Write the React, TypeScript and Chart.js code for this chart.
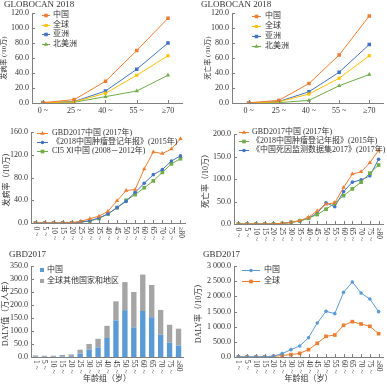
import React, { useEffect, useRef } from 'react';
import { Chart, registerables } from 'chart.js';

Chart.register(...registerables);

const FONT = "'Liberation Serif', 'Noto Sans CJK SC', serif";
const TEXT = '#333333';
const AXIS = '#808080';
const ORANGE = '#ED7D31';
const YELLOW = '#FFC000';
const BLUE = '#4472C4';
const LBLUE = '#5B9BD5';
const GREEN = '#70AD47';
const GRAY = '#A5A5A5';

// ---------- Panel 1 & 2 (GLOBOCAN 2018) ----------
const ages5 = ['0 ~', '25 ~', '40 ~', '55 ~', '≥70'];
const incChina = [0.5, 4.5, 29, 70, 113];
const incGlobal = [0.3, 1.5, 13, 37, 63];
const incAsia = [0.4, 2, 16, 45, 80];
const incNA = [0.2, 1, 8.5, 16, 37];
const mortChina = [0.3, 3.5, 26, 64, 116];
const mortGlobal = [0.2, 1.5, 12, 33, 63];
const mortAsia = [0.2, 2, 15, 41, 78];
const mortNA = [0.1, 0.5, 3.5, 23, 38];

// ---------- Panel 3 & 4 (China sources) ----------
const ages17a = ['0 ~', '5 ~', '10 ~', '15 ~', '20 ~', '25 ~', '30 ~', '35 ~', '40 ~', '45 ~', '50 ~', '55 ~', '60 ~', '65 ~', '70 ~', '75 ~', '≥80'];
const incGBD = [0, 0, 0, 0, 0.5, 3, 7.6, 12, 20.5, 39, 57, 59, 95, 125, 122, 130, 148];
const incRegistry = [0, 0, 0, 0, 0.4, 2, 4, 9, 16, 27, 38, 54, 70, 85, 94, 109, 118];
const incCI5 = [0, 0, 0, 0, 0.3, 1.5, 3.5, 8, 16, 27, 40, 50, 62, 74, 89, 104, 113];
const mortGBD = [0, 0, 0, 0, 0.3, 1.5, 3.7, 7.4, 15, 29, 44, 47, 81, 111, 116, 136, 164];
const mortRegistry = [0, 0, 0, 0, 0.2, 1, 3.7, 6.7, 13, 21, 33, 46, 63, 78, 93, 113, 131];
const mortDSP = [0, 0, 0, 0, 0.2, 1, 3.7, 6.7, 13, 24, 47, 38.5, 72, 93, 98, 107, 144];

// ---------- Panel 5 & 6 (GBD2017 DALY) ----------
const ages17b = ['1 ~', '5 ~', '10 ~', '15 ~', '20 ~', '25 ~', '30 ~', '35 ~', '40 ~', '45 ~', '50 ~', '55 ~', '60 ~', '65 ~', '70 ~', '75 ~', '≥80'];
const dalyChina = [1, 1, 1, 2, 3, 13, 29, 37, 73, 141, 180, 114, 177, 153, 86, 55, 44];
const dalyOther = [5, 4, 4, 6, 7, 15, 21, 33, 47, 73, 108, 136, 140, 124, 95, 69, 65];
const dalyRateChina = [5, 5, 5, 10, 30, 110, 242, 363, 637, 1121, 1505, 1429, 2132, 2473, 2110, 1912, 1495];
const dalyRateGlobal = [5, 3, 3, 5, 15, 55, 77, 121, 242, 450, 681, 725, 1044, 1165, 1088, 1011, 769];

type LegendSpec = { x: number; y: number; dy: number; lineLen?: number; box?: number; textX: number; size: number };
type Decor = { legend?: LegendSpec; rotLabels?: string[]; rotPad?: number; rotSize?: number; xTicks?: boolean };

function drawMarker(ctx: CanvasRenderingContext2D, style: string, x: number, y: number, r: number, color: string) {
  ctx.fillStyle = color;
  ctx.beginPath();
  if (style === 'rect') {
    const s = r * Math.SQRT1_2;
    ctx.rect(x - s, y - s, 2 * s, 2 * s);
  } else if (style === 'triangle') {
    ctx.moveTo(x, y - r);
    ctx.lineTo(x + r * 0.866, y + r * 0.5);
    ctx.lineTo(x - r * 0.866, y + r * 0.5);
    ctx.closePath();
  } else {
    ctx.arc(x, y, r, 0, Math.PI * 2);
  }
  ctx.fill();
}

function makeDecor(spec: Decor) {
  return {
    id: 'decor',
    afterDraw(chart: any) {
      const ctx = chart.ctx as CanvasRenderingContext2D;
      const xs = chart.scales.x;
      const ys = chart.scales.y;
      ctx.save();
      ctx.strokeStyle = AXIS;
      ctx.lineWidth = 1;
      ys.ticks.forEach((t: any) => {
        const py = Math.round(ys.getPixelForValue(t.value)) + 0.5;
        ctx.beginPath();
        ctx.moveTo(ys.right, py);
        ctx.lineTo(ys.right + 3, py);
        ctx.stroke();
      });
      if (spec.xTicks) {
        xs.ticks.forEach((_t: any, i: number) => {
          const px = Math.round(xs.getPixelForTick(i)) + 0.5;
          ctx.beginPath();
          ctx.moveTo(px, xs.top);
          ctx.lineTo(px, xs.top - 3);
          ctx.stroke();
        });
      }
      if (spec.rotLabels) {
        ctx.fillStyle = TEXT;
        ctx.font = `${spec.rotSize || 8}px ${FONT}`;
        ctx.textAlign = 'left';
        ctx.textBaseline = 'middle';
        spec.rotLabels.forEach((lab, i) => {
          const px = xs.getPixelForTick(i);
          ctx.save();
          ctx.translate(px, xs.top + (spec.rotPad || 3));
          ctx.rotate(Math.PI / 2);
          ctx.fillText(lab, 0, 0);
          ctx.restore();
        });
      }
      const lg = spec.legend;
      if (lg) {
        ctx.font = `${lg.size}px ${FONT}`;
        ctx.textAlign = 'left';
        ctx.textBaseline = 'middle';
        chart.data.datasets.forEach((ds: any, i: number) => {
          const y = lg.y + i * lg.dy;
          if (lg.box) {
            ctx.fillStyle = ds.backgroundColor;
            ctx.fillRect(lg.x, y - lg.box / 2, lg.box, lg.box);
          } else {
            const len = lg.lineLen || 10;
            ctx.strokeStyle = ds.borderColor;
            ctx.lineWidth = 1;
            ctx.beginPath();
            ctx.moveTo(lg.x, Math.round(y) + 0.5);
            ctx.lineTo(lg.x + len, Math.round(y) + 0.5);
            ctx.stroke();
            drawMarker(ctx, ds.pointStyle, lg.x + len / 2, Math.round(y) + 0.5, ds.pointRadius, ds.borderColor);
          }
          ctx.fillStyle = TEXT;
          ctx.fillText(ds.label, lg.textX, y);
        });
      }
      ctx.restore();
    },
  };
}

const fmt1 = (v: number) => v.toFixed(1);
const fmtThousands = (v: number) => {
  const [i, d] = v.toFixed(1).split('.');
  return i.replace(/\B(?=(\d{3})+(?!\d))/g, ' ') + '.' + d;
};

function yAxis(max: number, step: number, title: string, titleSize: number, titlePad: number, width: number, fmt = fmt1, stacked = false) {
  return {
    min: 0,
    max,
    stacked,
    ticks: { stepSize: step, color: TEXT, font: { family: FONT, size: 8 }, padding: 3, callback: (v: any) => fmt(Number(v)) },
    grid: { display: false, drawTicks: false },
    border: { display: true, color: AXIS, width: 1 },
    title: { display: true, text: title, color: TEXT, font: { family: FONT, size: titleSize }, padding: { top: titlePad, bottom: 0 } },
    afterFit: (s: any) => { s.width = width; },
  };
}

function xLinear(labels: string[], min: number, max: number, height: number) {
  return {
    type: 'linear',
    min,
    max,
    afterBuildTicks: (s: any) => { s.ticks = labels.map((_l, i) => ({ value: i })); },
    ticks: { color: TEXT, font: { family: FONT, size: 8 }, padding: 3, maxRotation: 0, autoSkip: false, callback: (v: any) => labels[Math.round(Number(v))] ?? '' },
    grid: { display: false, drawTicks: false },
    border: { display: true, color: AXIS, width: 1 },
    afterFit: (s: any) => { s.height = height; },
  };
}

function xCat(height: number, title?: string, stacked = false) {
  return {
    type: 'category',
    offset: true,
    stacked,
    ticks: { display: false },
    grid: { display: false, drawTicks: false },
    border: { display: true, color: AXIS, width: 1 },
    title: title
      ? { display: true, text: title, color: TEXT, font: { family: FONT, size: 8 }, padding: { top: 0, bottom: 0 } }
      : { display: false },
    afterFit: (s: any) => { s.height = height; },
  };
}

function lineDs(label: string, data: any[], color: string, pointStyle: string, r: number) {
  return {
    label, data, borderColor: color, backgroundColor: color,
    pointBackgroundColor: color, pointBorderColor: color, pointBorderWidth: 0,
    pointStyle, pointRadius: r, borderWidth: 1, tension: 0,
  };
}

const toXY = (arr: number[]) => arr.map((v, i) => ({ x: i, y: v }));

function common(scales: any, padding: any) {
  return {
    responsive: false,
    animation: false,
    devicePixelRatio: 1,
    events: [],
    layout: { padding },
    plugins: { legend: { display: false }, tooltip: { enabled: false }, title: { display: false } },
    scales,
  };
}

const build1 = () => ({
  type: 'line',
  data: {
    datasets: [
      lineDs('中国', toXY(incChina), ORANGE, 'rect', 2.5),
      lineDs('全球', toXY(incGlobal), YELLOW, 'rect', 2.2),
      lineDs('亚洲', toXY(incAsia), BLUE, 'rect', 2.5),
      lineDs('北美洲', toXY(incNA), GREEN, 'triangle', 2.5),
    ],
  },
  options: common(
    { x: xLinear(ages5, -0.352, 4.448, 17), y: yAxis(120, 20, '发病率 (/10万)', 7, 0, 32) },
    { left: 0, top: 13, right: 10, bottom: 0 }
  ),
  plugins: [makeDecor({ xTicks: true, legend: { x: 42, y: 15, dy: 9.7, lineLen: 8, textX: 53, size: 8 } })],
});

const build2 = () => ({
  type: 'line',
  data: {
    datasets: [
      lineDs('中国', toXY(mortChina), ORANGE, 'rect', 2.5),
      lineDs('全球', toXY(mortGlobal), YELLOW, 'rect', 2.2),
      lineDs('亚洲', toXY(mortAsia), BLUE, 'rect', 2.5),
      lineDs('北美洲', toXY(mortNA), GREEN, 'triangle', 2.5),
    ],
  },
  options: common(
    { x: xLinear(ages5, -0.553, 4.455, 17), y: yAxis(120, 20, '死亡率 (/10万)', 7, 11.8, 40) },
    { left: 0, top: 13, right: 1, bottom: 0 }
  ),
  plugins: [makeDecor({ xTicks: true, legend: { x: 60, y: 15.5, dy: 10, lineLen: 9, textX: 73, size: 8 } })],
});

const build3 = () => ({
  type: 'line',
  data: {
    labels: ages17a,
    datasets: [
      lineDs('GBD2017中国 (2017年)', incGBD, ORANGE, 'triangle', 2.5),
      lineDs('《2018中国肿瘤登记年报》(2015年)', incRegistry, BLUE, 'circle', 1.8),
      lineDs('CI5 Ⅺ中国 (2008－2012年)', incCI5, GREEN, 'rect', 2.6),
    ],
  },
  options: common(
    { x: xCat(27), y: yAxis(160, 20, '发病率（/10万）', 8, 2, 31) },
    { left: 0, top: 10, right: 7, bottom: 0 }
  ),
  plugins: [makeDecor({ xTicks: true, rotLabels: ages17a, rotPad: 3.5, rotSize: 7.5, legend: { x: 37, y: 11, dy: 9, lineLen: 11, textX: 52, size: 8 } })],
});

const build4 = () => ({
  type: 'line',
  data: {
    labels: ages17a,
    datasets: [
      lineDs('GBD2017中国 (2017年)', mortGBD, ORANGE, 'triangle', 2.5),
      lineDs('《2018中国肿瘤登记年报》(2015年)', mortRegistry, GREEN, 'rect', 2.6),
      lineDs('《中国死因监测数据集2017》(2017年)', mortDSP, BLUE, 'circle', 1.8),
    ],
  },
  options: common(
    { x: xCat(26), y: yAxis(200, 50, '死亡率（/10万）', 8, 8.7, 42) },
    { left: 0, top: 12, right: 0.5, bottom: 0 }
  ),
  plugins: [makeDecor({ xTicks: true, rotLabels: ages17a, rotPad: 3.5, rotSize: 7.5, legend: { x: 47, y: 10, dy: 9, lineLen: 10, textX: 60, size: 8 } })],
});

const build5 = () => ({
  type: 'bar',
  data: {
    labels: ages17b,
    datasets: [
      { label: '中国', data: dalyChina, backgroundColor: LBLUE, barPercentage: 0.6, categoryPercentage: 1, stack: 's' },
      { label: '全球其他国家和地区', data: dalyOther, backgroundColor: GRAY, barPercentage: 0.6, categoryPercentage: 1, stack: 's' },
    ],
  },
  options: common(
    { x: xCat(27, '年龄组（岁）', true), y: yAxis(350, 50, 'DALY值（万人年）', 8, 1, 31, fmt1, true) },
    { left: 0, top: 16, right: 9, bottom: 0 }
  ),
  plugins: [makeDecor({ xTicks: false, rotLabels: ages17b, rotPad: 3, rotSize: 7.5, legend: { x: 40, y: 20, dy: 11, box: 4, textX: 47, size: 8 } })],
});

const build6 = () => ({
  type: 'line',
  data: {
    labels: ages17b,
    datasets: [
      lineDs('中国', dalyRateChina, LBLUE, 'circle', 1.8),
      lineDs('全球', dalyRateGlobal, ORANGE, 'rect', 2.6),
    ],
  },
  options: common(
    { x: xCat(27, '年龄组（岁）'), y: yAxis(3000, 500, 'DALY率（/10万）', 8, 1.7, 42, fmtThousands) },
    { left: 0, top: 16, right: 2.5, bottom: 0 }
  ),
  plugins: [makeDecor({ xTicks: true, rotLabels: ages17b, rotPad: 3, rotSize: 7.5, legend: { x: 50, y: 20, dy: 11, lineLen: 18, textX: 72, size: 8 } })],
});

function Panel({ left, top, width, height, build }: { left: number; top: number; width: number; height: number; build: () => any }) {
  const ref = useRef<HTMLCanvasElement>(null);
  useEffect(() => {
    const chart = new Chart(ref.current as HTMLCanvasElement, build());
    return () => chart.destroy();
  }, []);
  return (
    <div style={{ position: 'absolute', left, top, width, height }}>
      <canvas ref={ref} width={width} height={height} style={{ display: 'block', width, height }} />
    </div>
  );
}

const titleStyle = (left: number, top: number): React.CSSProperties => ({
  position: 'absolute', left, top, fontFamily: FONT, fontSize: 9, lineHeight: '9px', color: TEXT, whiteSpace: 'nowrap', zIndex: 2,
});

export default function App() {
  return (
    <div style={{ position: 'absolute', left: 0, top: 0, width: 387, height: 384, background: '#fff', overflow: 'hidden' }}>
      <Panel left={0} top={0} width={192} height={120} build={build1} />
      <Panel left={192} top={0} width={195} height={120} build={build2} />
      <Panel left={0} top={122} width={192} height={128} build={build3} />
      <Panel left={192} top={122} width={195} height={128} build={build4} />
      <Panel left={0} top={250} width={192} height={134} build={build5} />
      <Panel left={192} top={250} width={195} height={134} build={build6} />
      <div style={titleStyle(4, 0)}>GLOBOCAN 2018</div>
      <div style={titleStyle(201, 0)}>GLOBOCAN 2018</div>
      <div style={titleStyle(9, 250)}>GBD2017</div>
      <div style={titleStyle(203, 250)}>GBD2017</div>
    </div>
  );
}
